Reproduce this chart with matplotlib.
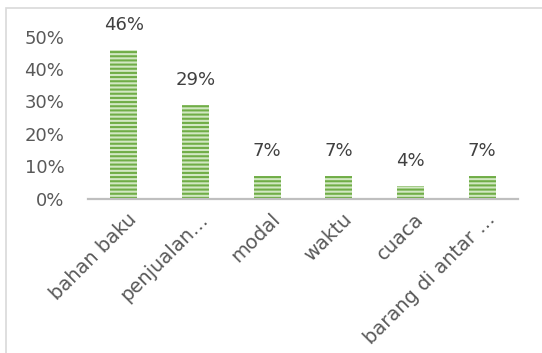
import matplotlib
matplotlib.use('Agg')
import matplotlib.pyplot as plt
from matplotlib.patches import Rectangle
from matplotlib.transforms import ScaledTranslation

categories = ['bahan baku', 'penjualan…', 'modal', 'waktu', 'cuaca', 'barang di antar …']
values = [0.46, 0.29, 0.07, 0.07, 0.04, 0.07]
yticks = [0, 0.1, 0.2, 0.3, 0.4, 0.5]
ytick_labels = ['0%', '10%', '20%', '30%', '40%', '50%']

plt.rcParams['font.family'] = ['DejaVu Sans']
plt.rcParams['hatch.linewidth'] = 1.5

W, H = 542, 353
fig = plt.figure(figsize=(W / 100, H / 100), dpi=100)
ax = fig.add_axes([88 / W, 1 - 198.7 / H, 430 / W, 162 / H])

x = list(range(len(categories)))
ax.bar(x, values, width=0.375, color='#d2e8c3', edgecolor='#70ad47',
       hatch='----', linewidth=0)

for xi, v in zip(x, values):
    ax.annotate(f'{round(v * 100)}%', (xi, v), xytext=(0, 18),
                textcoords='offset points', ha='center', va='center',
                fontsize=13, color='#404040', annotation_clip=False)

ax.set_xlim(-0.5, len(categories) - 0.5)
ax.set_ylim(0, 0.5)
ax.set_yticks(yticks)
ax.set_yticklabels(ytick_labels)
ax.set_xticks(x)
ax.set_xticklabels(categories, rotation=45, ha='right', rotation_mode='anchor')
ax.tick_params(axis='both', length=0, labelsize=13, labelcolor='#595959')
ax.tick_params(axis='x', labelsize=14, pad=8)
ax.tick_params(axis='y', pad=17)
shift = ScaledTranslation(3 / 100, 0, fig.dpi_scale_trans)
for lab in ax.get_xticklabels():
    lab.set_transform(lab.get_transform() + shift)

for s in ['top', 'right', 'left']:
    ax.spines[s].set_visible(False)
ax.spines['bottom'].set_color('#bfbfbf')
ax.spines['bottom'].set_linewidth(1.6)

# chart border (right and bottom edges fall outside the picture)
fig.patches.append(Rectangle((6 / W, -0.1), 1.2, 1.1 - 7.5 / H,
                             transform=fig.transFigure, fill=False,
                             edgecolor='#d9d9d9', linewidth=1.2))

fig.savefig('out.png', dpi=100)
